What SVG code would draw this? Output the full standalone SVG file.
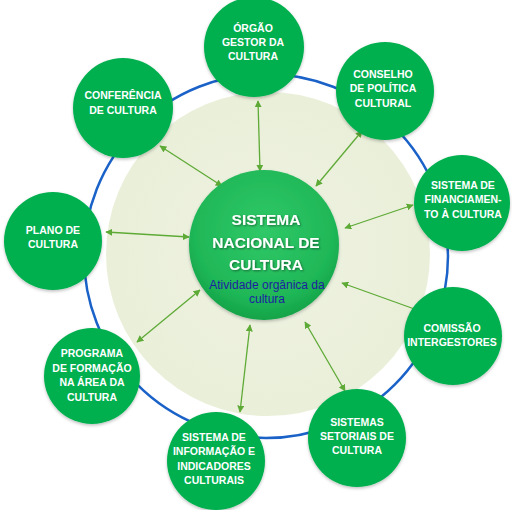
<svg xmlns="http://www.w3.org/2000/svg" width="512" height="510" viewBox="0 0 512 510">
<defs>
<radialGradient id="cg" cx="50%" cy="40%" r="62%">
<stop offset="0" stop-color="#30C968"/>
<stop offset="0.75" stop-color="#1FB757"/>
<stop offset="1" stop-color="#11A046"/>
</radialGradient>
<radialGradient id="bg" cx="50%" cy="50%" r="50%">
<stop offset="0" stop-color="#EEF2E2"/>
<stop offset="1" stop-color="#EAEFD9"/>
</radialGradient>
<filter id="sh" x="-20%" y="-20%" width="140%" height="140%">
<feDropShadow dx="0" dy="1.5" stdDeviation="1.5" flood-color="#000" flood-opacity="0.25"/>
</filter>
<filter id="ts" x="-10%" y="-10%" width="120%" height="130%">
<feDropShadow dx="1" dy="1" stdDeviation="0.8" flood-color="#000" flood-opacity="0.45"/>
</filter>
<marker id="ah" viewBox="0 0 10 10" refX="9" refY="5" markerWidth="7" markerHeight="7" markerUnits="userSpaceOnUse" orient="auto-start-reverse">
<path d="M0,0 L10,5 L0,10 Z" fill="#5EAA36"/>
</marker>
</defs>
<style>
.node{fill:#00B050;filter:url(#sh)}
.nt{font-family:"Liberation Sans",Arial,sans-serif;font-weight:bold;font-size:10.5px;fill:#FFFFFF;text-anchor:middle}
.con line{stroke:#5EAA36;stroke-width:1.3;marker-start:url(#ah);marker-end:url(#ah)}
</style>
<rect width="512" height="510" fill="#FFFFFF"/>
<circle cx="268" cy="254" r="162" fill="url(#bg)"/>
<circle cx="266" cy="256" r="182" fill="none" stroke="#1A62C8" stroke-width="2.5"/>
<g id="connectors" class="con">
<line x1="258" y1="101" x2="260" y2="171"/>
<line x1="362" y1="131" x2="316" y2="186"/>
<line x1="413" y1="205" x2="345" y2="228"/>
<line x1="420" y1="311" x2="342" y2="283"/>
<line x1="345" y1="391" x2="305" y2="322"/>
<line x1="240" y1="412" x2="250" y2="325"/>
<line x1="137" y1="342" x2="200" y2="290"/>
<line x1="106" y1="232" x2="189" y2="237"/>
<line x1="160" y1="146" x2="222" y2="186"/>
</g>
<g id="center">
<circle cx="264" cy="245" r="75" fill="url(#cg)" filter="url(#sh)"/>
<g font-family="'Liberation Sans',Arial,sans-serif" font-weight="bold" font-size="15.5" fill="#FFFFFF" text-anchor="middle" filter="url(#ts)">
<text x="266" y="225">SISTEMA</text>
<text x="266" y="248">NACIONAL DE</text>
<text x="266" y="270">CULTURA</text>
</g>
<text x="267" y="289" font-family="'Liberation Sans',Arial,sans-serif" font-size="12" fill="#1E1EA0" text-anchor="middle">Atividade orgânica da</text>
<text x="267" y="303" font-family="'Liberation Sans',Arial,sans-serif" font-size="12" fill="#1E1EA0" text-anchor="middle">cultura</text>
</g>
<g id="orgao">
<circle class="node" cx="254" cy="47" r="50"/>
<text class="nt" x="253" y="32">ÓRGÃO</text>
<text class="nt" x="253" y="46">GESTOR DA</text>
<text class="nt" x="253" y="60">CULTURA</text>
</g>
<g id="conselho">
<circle class="node" cx="385" cy="91" r="49"/>
<text class="nt" x="383" y="78">CONSELHO</text>
<text class="nt" x="383" y="92">DE POLÍTICA</text>
<text class="nt" x="383" y="107">CULTURAL</text>
</g>
<g id="financiamento">
<circle class="node" cx="462" cy="203" r="48"/>
<text class="nt" x="463" y="189">SISTEMA DE</text>
<text class="nt" x="463" y="203">FINANCIAMEN-</text>
<text class="nt" x="463" y="218">TO À CULTURA</text>
</g>
<g id="comissao">
<circle class="node" cx="453" cy="336" r="49"/>
<text class="nt" x="452" y="332">COMISSÃO</text>
<text class="nt" x="452" y="346">INTERGESTORES</text>
</g>
<g id="setoriais">
<circle class="node" cx="357" cy="438" r="49"/>
<text class="nt" x="357" y="426">SISTEMAS</text>
<text class="nt" x="357" y="440">SETORIAIS DE</text>
<text class="nt" x="357" y="454">CULTURA</text>
</g>
<g id="informacao">
<circle class="node" cx="216" cy="461" r="49"/>
<text class="nt" x="214" y="441">SISTEMA DE</text>
<text class="nt" x="214" y="455">INFORMAÇÃO E</text>
<text class="nt" x="214" y="470">INDICADORES</text>
<text class="nt" x="214" y="484">CULTURAIS</text>
</g>
<g id="programa">
<circle class="node" cx="92" cy="376" r="48"/>
<text class="nt" x="92" y="357">PROGRAMA</text>
<text class="nt" x="92" y="372">DE FORMAÇÃO</text>
<text class="nt" x="92" y="386">NA ÁREA DA</text>
<text class="nt" x="92" y="401">CULTURA</text>
</g>
<g id="plano">
<circle class="node" cx="53" cy="241" r="49"/>
<text class="nt" x="53" y="234">PLANO DE</text>
<text class="nt" x="53" y="248">CULTURA</text>
</g>
<g id="conferencia">
<circle class="node" cx="123" cy="108" r="50"/>
<text class="nt" x="123" y="99">CONFERÊNCIA</text>
<text class="nt" x="123" y="114">DE CULTURA</text>
</g>
</svg>
